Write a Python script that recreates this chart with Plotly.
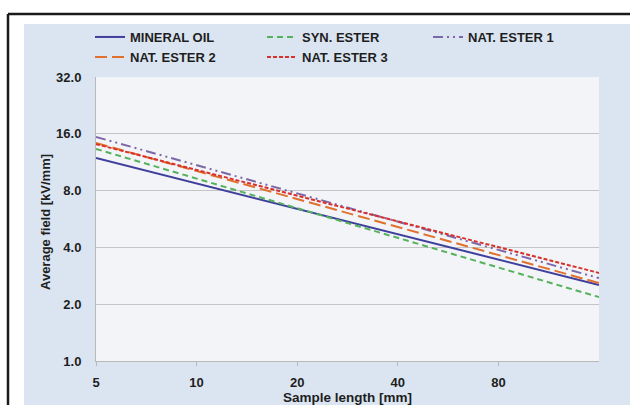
import plotly.graph_objects as go

# Data (log-log straight lines; endpoints)
sample_length = [5, 160]
mineral_oil = [11.9, 2.53]
syn_ester = [13.3, 2.18]
nat_ester_1 = [15.4, 2.75]
nat_ester_2 = [14.3, 2.59]
nat_ester_3 = [14.1, 2.93]

series_names = ["MINERAL OIL", "SYN. ESTER", "NAT. ESTER 1", "NAT. ESTER 2", "NAT. ESTER 3"]
y_ticks = [1, 2, 4, 8, 16, 32]
y_ticktext = ["1.0", "2.0", "4.0", "8.0", "16.0", "32.0"]
x_ticks = [5, 10, 20, 40, 80]
x_ticktext = ["5", "10", "20", "40", "80"]
x_title = "Sample length [mm]"
y_title = "Average field [kV/mm]"

W, H = 630, 405
L, R, T, B = 96, 31, 77, 44
pw, ph = W - L - R, H - T - B


def px_x(p):
    return (p - L) / pw


def px_y(p):
    return (H - B - p) / ph


styles = [
    dict(color="#3f3f9c", dash="solid", legend="legend", lx=90, ly=37),
    dict(color="#55b25a", dash="6px,4px", legend="legend2", lx=262, ly=37),
    dict(color="#7c68a8", dash="10px,4px,2px,4px,2px,4px", legend="legend3", lx=428, ly=37),
    dict(color="#e0702c", dash="12px,5px", legend="legend4", lx=90, ly=57),
    dict(color="#d8302c", dash="4px,2px", legend="legend5", lx=262, ly=57),
]
values = [mineral_oil, syn_ester, nat_ester_1, nat_ester_2, nat_ester_3]

font_fam = "Liberation Sans, Arial, sans-serif"
txt_col = "#1e1e1e"

fig = go.Figure()
legends = {}
for name, vals, st in zip(series_names, values, styles):
    fig.add_trace(go.Scatter(
        x=sample_length, y=vals, mode="lines", name=name,
        line=dict(color=st["color"], dash=st["dash"], width=2),
        legend=st["legend"],
    ))
    legends[st["legend"]] = dict(
        x=px_x(st["lx"]), y=px_y(st["ly"]), xanchor="left", yanchor="middle",
        orientation="h", itemwidth=30, bgcolor="rgba(0,0,0,0)", borderwidth=0,
        font=dict(family=font_fam, size=13, color=txt_col, weight="bold"),
    )

shapes = [
    # white strips around the light blue panel
    dict(type="rect", xref="paper", yref="paper", x0=px_x(-5), x1=px_x(W + 5), y0=px_y(24), y1=px_y(-5),
         fillcolor="white", line=dict(width=0), layer="above"),
    dict(type="rect", xref="paper", yref="paper", x0=px_x(-5), x1=px_x(24), y0=px_y(H + 5), y1=px_y(-5),
         fillcolor="white", line=dict(width=0), layer="above"),
    # black frame
    dict(type="line", xref="paper", yref="paper", x0=px_x(8), x1=px_x(W + 5), y0=px_y(14), y1=px_y(14),
         line=dict(color="#1a1a1a", width=2.5), layer="above"),
    dict(type="line", xref="paper", yref="paper", x0=px_x(8), x1=px_x(8), y0=px_y(14), y1=px_y(H + 5),
         line=dict(color="#1a1a1a", width=2.5), layer="above"),
]

annotations = [
    dict(text=y_title, xref="paper", yref="paper", x=px_x(45), y=px_y(222),
         xanchor="center", yanchor="middle", textangle=-90, showarrow=False,
         font=dict(family=font_fam, size=13, color=txt_col, weight="bold")),
]

y_range = [0, 1.50515]

fig.update_layout(
    width=W, height=H,
    margin=dict(l=L, r=R, t=T, b=B, autoexpand=False),
    paper_bgcolor="#dbe5f1",
    plot_bgcolor="#f2f4f7",
    showlegend=True,
    shapes=shapes,
    annotations=annotations,
    font=dict(family=font_fam, color=txt_col),
    xaxis=dict(
        type="log", range=[0.69897, 2.20412],
        tickvals=x_ticks, ticktext=x_ticktext,
        showgrid=False, showline=True, linecolor="#b8b8b8", linewidth=1,
        ticks="outside", ticklen=4, tickcolor="#b8b8b8",
        ticklabelstandoff=5,
        tickfont=dict(size=13, weight="bold"),
        title=dict(text=x_title, font=dict(size=13.5, weight="bold"), standoff=2),
        zeroline=False, automargin=False,
    ),
    yaxis=dict(
        type="log", range=y_range,
        tickvals=y_ticks, ticktext=y_ticktext,
        showgrid=True, gridcolor="#c4c4c4", gridwidth=1,
        showline=True, linecolor="#b8b8b8", linewidth=1,
        ticks="outside", ticklen=11, tickcolor="rgba(0,0,0,0)",
        tickfont=dict(size=13, weight="bold"),
        zeroline=False, automargin=False,
    ),
    yaxis2=dict(
        type="log", range=y_range, overlaying="y", side="left",
        tickvals=y_ticks, showticklabels=False,
        showgrid=False, showline=False,
        ticks="outside", ticklen=5, tickcolor="#b8b8b8",
        zeroline=False, automargin=False,
    ),
    **legends,
)

fig.write_html("out.html")
